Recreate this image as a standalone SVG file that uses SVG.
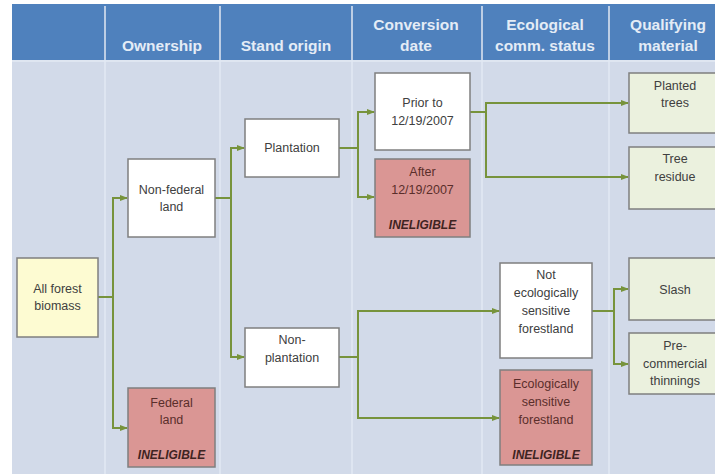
<svg xmlns="http://www.w3.org/2000/svg" width="715" height="474" viewBox="0 0 715 474">
<style>
.hdr{font-family:"Liberation Sans",Arial,sans-serif;font-weight:bold;font-size:15.5px;fill:#e4ecf6;text-anchor:middle}
.t{font-family:"Liberation Sans",Arial,sans-serif;font-size:12.5px;fill:#404040;text-anchor:middle}
.tr{font-family:"Liberation Sans",Arial,sans-serif;font-size:12.5px;fill:#5a2e2b;text-anchor:middle}
.inel{font-family:"Liberation Sans",Arial,sans-serif;font-size:12px;font-weight:bold;font-style:italic;fill:#3f2422;text-anchor:middle}
.box{stroke:#7f7f7f;stroke-width:1.5}
.w{fill:#ffffff}
.r{fill:#da9694}
.y{fill:#fdfbd2}
.g{fill:#ebf1de}
.sep{stroke:#e2e9f3;stroke-width:1.5}
.c{fill:none;stroke:#77933c;stroke-width:2}
.ca{fill:none;stroke:#77933c;stroke-width:2;marker-end:url(#ah)}
</style>
<defs>
<marker id="ah" markerWidth="8" markerHeight="8" refX="7" refY="4" orient="auto" markerUnits="userSpaceOnUse">
<path d="M0,1 L8,4 L0,7 Z" fill="#77933c"/>
</marker>
</defs>
<rect x="0" y="0" width="715" height="474" fill="#ffffff"/>
<rect x="12" y="4" width="703" height="57" fill="#4f81bd"/>
<rect x="12" y="61" width="703" height="413" fill="#d2dae9"/>
<line x1="12" y1="61" x2="715" y2="61" stroke="#dfe6f1" stroke-width="2"/>
<g id="columns">
<line class="sep" x1="105" y1="6" x2="105" y2="474"/>
<line class="sep" x1="220" y1="6" x2="220" y2="474"/>
<line class="sep" x1="352" y1="6" x2="352" y2="474"/>
<line class="sep" x1="482" y1="6" x2="482" y2="474"/>
<line class="sep" x1="609" y1="6" x2="609" y2="474"/>
</g>
<g id="headers">
<text class="hdr" x="162" y="51">Ownership</text>
<text class="hdr" x="286" y="51">Stand origin</text>
<text class="hdr" x="416" y="30">Conversion</text>
<text class="hdr" x="416" y="51">date</text>
<text class="hdr" x="545" y="30">Ecological</text>
<text class="hdr" x="545" y="51">comm. status</text>
<text class="hdr" x="668" y="30">Qualifying</text>
<text class="hdr" x="668" y="51">material</text>
</g>
<g id="connectors">
<polyline class="c" points="98,297 113,297"/>
<polyline class="ca" points="113,297 113,198 127,198"/>
<polyline class="ca" points="113,297 113,428 127,428"/>
<polyline class="c" points="215,198 231,198"/>
<polyline class="ca" points="231,198 231,148 244,148"/>
<polyline class="ca" points="231,198 231,357 244,357"/>
<polyline class="c" points="339,148 358,148"/>
<polyline class="ca" points="358,148 358,112 374,112"/>
<polyline class="ca" points="358,148 358,197 374,197"/>
<polyline class="c" points="470,112 486,112"/>
<polyline class="ca" points="486,112 486,103 628,103"/>
<polyline class="ca" points="486,112 486,177 628,177"/>
<polyline class="c" points="339,357 358,357"/>
<polyline class="ca" points="358,357 358,311 499,311"/>
<polyline class="ca" points="358,357 358,418 499,418"/>
<polyline class="c" points="592,311 614,311"/>
<polyline class="ca" points="614,311 614,289 628,289"/>
<polyline class="ca" points="614,311 614,364 628,364"/>
</g>
<g id="all-forest-biomass">
<rect class="box y" x="17" y="258" width="81" height="79"/>
<text class="t" x="57.5" y="293">All forest</text>
<text class="t" x="57.5" y="310">biomass</text>
</g>
<g id="non-federal-land">
<rect class="box w" x="128" y="159" width="87" height="78"/>
<text class="t" x="171.5" y="194">Non-federal</text>
<text class="t" x="171.5" y="211">land</text>
</g>
<g id="federal-land">
<rect class="box r" x="128" y="388" width="87" height="79"/>
<text class="tr" x="171.5" y="407">Federal</text>
<text class="tr" x="171.5" y="424">land</text>
<text class="inel" x="171.5" y="459">INELIGIBLE</text>
</g>
<g id="plantation">
<rect class="box w" x="245" y="119" width="94" height="58"/>
<text class="t" x="292" y="152">Plantation</text>
</g>
<g id="non-plantation">
<rect class="box w" x="245" y="328" width="94" height="59"/>
<text class="t" x="292" y="344">Non-</text>
<text class="t" x="292" y="362">plantation</text>
</g>
<g id="prior-2007">
<rect class="box w" x="375" y="73" width="95" height="77"/>
<text class="t" x="422.5" y="107">Prior to</text>
<text class="t" x="422.5" y="125">12/19/2007</text>
</g>
<g id="after-2007">
<rect class="box r" x="375" y="159" width="95" height="78"/>
<text class="tr" x="422.5" y="176">After</text>
<text class="tr" x="422.5" y="194">12/19/2007</text>
<text class="inel" x="422.5" y="229">INELIGIBLE</text>
</g>
<g id="not-eco-sensitive">
<rect class="box w" x="500" y="263" width="92" height="95"/>
<text class="t" x="546" y="279">Not</text>
<text class="t" x="546" y="297">ecologically</text>
<text class="t" x="546" y="315">sensitive</text>
<text class="t" x="546" y="333">forestland</text>
</g>
<g id="eco-sensitive">
<rect class="box r" x="500" y="370" width="92" height="95"/>
<text class="tr" x="546" y="388">Ecologically</text>
<text class="tr" x="546" y="406">sensitive</text>
<text class="tr" x="546" y="424">forestland</text>
<text class="inel" x="546" y="459">INELIGIBLE</text>
</g>
<g id="planted-trees">
<rect class="box g" x="629" y="73" width="93" height="60"/>
<text class="t" x="675" y="90">Planted</text>
<text class="t" x="675" y="107">trees</text>
</g>
<g id="tree-residue">
<rect class="box g" x="629" y="147" width="93" height="62"/>
<text class="t" x="675" y="163">Tree</text>
<text class="t" x="675" y="181">residue</text>
</g>
<g id="slash">
<rect class="box g" x="629" y="258" width="93" height="62"/>
<text class="t" x="675" y="294">Slash</text>
</g>
<g id="pre-commercial-thinnings">
<rect class="box g" x="629" y="333" width="93" height="61"/>
<text class="t" x="675" y="350">Pre-</text>
<text class="t" x="675" y="368">commercial</text>
<text class="t" x="675" y="385">thinnings</text>
</g>
</svg>
